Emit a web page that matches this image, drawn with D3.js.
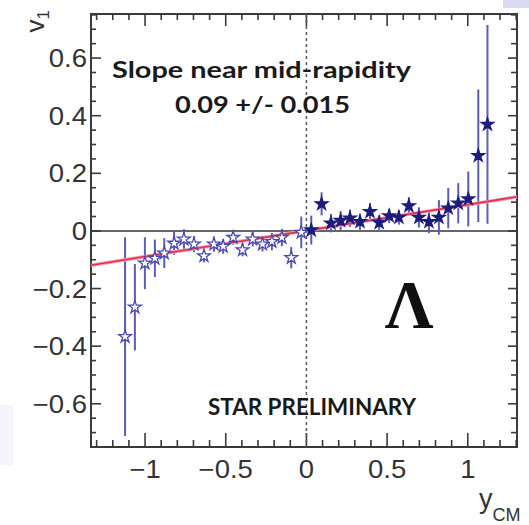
<!DOCTYPE html>
<html><head><meta charset="utf-8">
<script src="https://cdn.jsdelivr.net/npm/d3@7"></script>
<style>html,body{margin:0;padding:0;background:#fff;}svg{display:block;}</style>
</head><body>
<script>
// ---- data ----
const yCM = [-1.124,-1.063,-1.001,-0.939,-0.881,-0.82,-0.759,-0.697,-0.635,-0.573,-0.516,-0.454,-0.396,-0.333,-0.272,-0.214,-0.152,-0.094,-0.032,
             0.03,0.094,0.152,0.212,0.27,0.332,0.394,0.451,0.513,0.573,0.635,0.697,0.759,0.821,0.879,0.941,1.003,1.065,1.122];
const v1 = [-0.367,-0.265,-0.112,-0.095,-0.077,-0.043,-0.029,-0.046,-0.087,-0.046,-0.054,-0.023,-0.066,-0.029,-0.046,-0.037,-0.023,-0.093,-0.005,
            0.003,0.094,0.027,0.036,0.044,0.032,0.067,0.029,0.052,0.047,0.087,0.047,0.032,0.047,0.079,0.096,0.111,0.261,0.37];
const v1Err = [0.345,0.15,0.09,0.065,0.052,0.04,0.035,0.028,0.022,0.026,0.025,0.025,0.022,0.025,0.025,0.03,0.03,0.037,0.055,
               0.05,0.04,0.032,0.033,0.03,0.028,0.03,0.025,0.025,0.025,0.03,0.035,0.04,0.06,0.07,0.07,0.095,0.23,0.345];
const fitSlope = 0.09, fitIntercept = 0.001;
const xMajorTicks = [-1,-0.5,0,0.5,1];
const xTickLabels = ["\u22121","\u22120.5","0","0.5","1"];
const yMajorTicks = [-0.6,-0.4,-0.2,0,0.2,0.4,0.6];
const yTickLabels = ["\u22120.6","\u22120.4","\u22120.2","0","0.2","0.4","0.6"];
const xMinorTicks = d3.range(-13,14).map(d=>d/10);
const yMinorTicks = d3.range(-14,16).map(d=>d/20);
const slopeText = "Slope near mid-rapidity";
const slopeValue = "0.09 +/- 0.015";
const prelimText = "STAR PRELIMINARY";
const particleLabel = "\u039B";

// ---- layout ----
const W=529,H=525;
const L=91,R=517,T=14,B=447;
const x = d3.scaleLinear().domain([-1.335,1.305]).range([L,R]);
const y = d3.scaleLinear().domain([-0.75,0.753]).range([B,T]);

const svg = d3.select("body").append("svg").attr("width",W).attr("height",H);
svg.append("rect").attr("width",W).attr("height",H).attr("fill","#fff");
// scan artifacts
svg.append("rect").attr("x",503).attr("y",0).attr("width",26).attr("height",8).attr("fill","#d9daf2");
svg.append("rect").attr("x",0).attr("y",405).attr("width",13).attr("height",60).attr("fill","#f4f5fc");

const axisCol="#3a3a3a";
// frame
svg.append("rect").attr("x",L).attr("y",T).attr("width",R-L).attr("height",B-T)
  .attr("fill","none").attr("stroke",axisCol).attr("stroke-width",2);

// ticks
const tk = svg.append("g").attr("stroke",axisCol).attr("stroke-width",1.6);
xMinorTicks.forEach(v=>{
  const major = xMajorTicks.some(m=>Math.abs(m-v)<1e-9);
  const len = major?14:7;
  tk.append("line").attr("x1",x(v)).attr("x2",x(v)).attr("y1",B).attr("y2",B-len);
  tk.append("line").attr("x1",x(v)).attr("x2",x(v)).attr("y1",T).attr("y2",T+(major?12:6));
});
yMinorTicks.forEach(v=>{
  const major = yMajorTicks.some(m=>Math.abs(m-v)<1e-9);
  const len = major?10:5;
  if (y(v)<T-0.5||y(v)>B+0.5) return;
  tk.append("line").attr("x1",L).attr("x2",L+len).attr("y1",y(v)).attr("y2",y(v));
  tk.append("line").attr("x1",R).attr("x2",R-(major?9:6)).attr("y1",y(v)).attr("y2",y(v));
});

// tick labels
const lblFont = "'Liberation Sans', Arial, sans-serif";
xMajorTicks.forEach((v,i)=>{
  svg.append("text").attr("transform",`translate(${x(v)},478) scale(1.1,1)`)
    .attr("text-anchor","middle").attr("font-family",lblFont).attr("font-size",25)
    .attr("fill","#333").text(xTickLabels[i]);
});
yMajorTicks.forEach((v,i)=>{
  svg.append("text").attr("transform",`translate(87,${y(v)+9}) scale(1.1,1)`)
    .attr("text-anchor","end").attr("font-family",lblFont).attr("font-size",25)
    .attr("fill","#333").text(yTickLabels[i]);
});

// axis titles
const yt = svg.append("text").attr("transform","translate(44,10) rotate(-90)")
  .attr("text-anchor","end").attr("font-family",lblFont).attr("font-size",26).attr("fill","#333");
yt.append("tspan").text("v");
yt.append("tspan").attr("font-size",17).attr("dy",5).text("1");
const xt = svg.append("text").attr("x",479).attr("y",508)
  .attr("font-family",lblFont).attr("font-size",27).attr("fill","#333");
xt.append("tspan").text("y");
xt.append("tspan").attr("font-size",18).attr("dy",13).text("CM");

// zero line and dashed y-axis at 0
svg.append("line").attr("x1",L).attr("x2",R).attr("y1",y(0)).attr("y2",y(0))
  .attr("stroke","#333").attr("stroke-width",1.6);
svg.append("line").attr("x1",x(0)).attr("x2",x(0)).attr("y1",T).attr("y2",B)
  .attr("stroke","#555").attr("stroke-width",1.5).attr("stroke-dasharray","3,3");

// error bars
const idx = d3.range(yCM.length);
svg.append("g").selectAll("line").data(idx).join("line")
  .attr("x1",i=>x(yCM[i])).attr("x2",i=>x(yCM[i]))
  .attr("y1",i=>y(v1[i]+v1Err[i])).attr("y2",i=>y(v1[i]-v1Err[i]))
  .attr("stroke","#5b5bb8").attr("stroke-width",2);

// fit line
const xd = x.domain();
svg.append("line").attr("x1",x(xd[0])).attr("x2",x(xd[1]))
  .attr("y1",y(fitSlope*xd[0]+fitIntercept)).attr("y2",y(fitSlope*xd[1]+fitIntercept))
  .attr("stroke","#f5a0ac").attr("stroke-width",3.5);
svg.append("line").attr("x1",x(xd[0])).attr("x2",x(xd[1]))
  .attr("y1",y(fitSlope*xd[0]+fitIntercept)).attr("y2",y(fitSlope*xd[1]+fitIntercept))
  .attr("stroke","#e0304a").attr("stroke-width",1.6);

// stars
const star = d3.symbol().type(d3.symbolStar).size(50);
svg.append("g").selectAll("path").data(idx).join("path")
  .attr("d",star)
  .attr("transform",i=>`translate(${x(yCM[i])},${y(v1[i])})`)
  .attr("fill",i=>yCM[i]<0?"#fff":"#1c1c7e")
  .attr("stroke",i=>yCM[i]<0?"#4848b0":"#1c1c7e")
  .attr("stroke-width",1.3);

// annotations
const annFont = "Lato, 'Open Sans', sans-serif";
svg.append("text").attr("x",112).attr("y",78).attr("font-family",annFont).attr("font-weight","bold")
  .attr("font-size",23).attr("fill","#1a1a1a").attr("textLength",299).attr("lengthAdjust","spacingAndGlyphs").text(slopeText);
svg.append("text").attr("x",175).attr("y",113).attr("font-family",annFont).attr("font-weight","bold")
  .attr("font-size",23).attr("fill","#1a1a1a").attr("textLength",175).attr("lengthAdjust","spacingAndGlyphs").text(slopeValue);
svg.append("text").attr("x",208).attr("y",415).attr("font-family",annFont).attr("font-weight","bold")
  .attr("font-size",22).attr("fill","#1a1a1a").attr("textLength",208).attr("lengthAdjust","spacingAndGlyphs").text(prelimText);
svg.append("text").attr("x",409).attr("y",327).attr("text-anchor","middle")
  .attr("font-family","'Liberation Serif', 'Times New Roman', serif").attr("font-weight","bold")
  .attr("font-size",68).attr("fill","#111").text(particleLabel);
</script>
</body></html>
